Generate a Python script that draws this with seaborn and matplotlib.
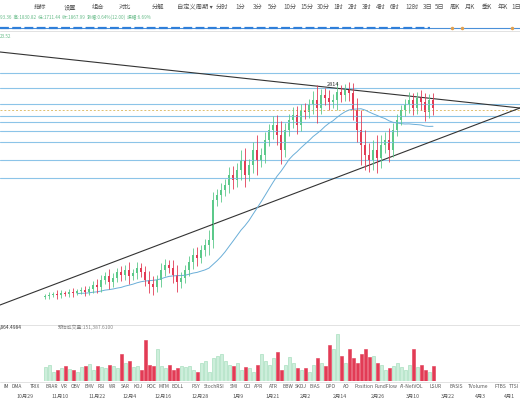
import numpy as np
import pandas as pd
import matplotlib
matplotlib.use("Agg")
import matplotlib.pyplot as plt
import seaborn as sns

sns.set_theme(style="white")
plt.rcParams['font.family'] = ['Noto Sans CJK SC', 'DejaVu Sans']

# closing prices (arbitrary chart units)
closes = [340, 350, 360, 350, 370, 360, 380, 370, 390, 400, 380, 410,
          450, 430, 500, 540, 480, 520, 580, 550, 600, 540, 570, 620, 580,
          500, 460, 430, 500, 600, 650, 620, 550, 480, 520,
          600, 680, 750, 720, 800, 850, 900,
          1300, 1350, 1400,
          1450, 1550, 1500, 1600, 1700, 1550, 1650, 1800, 1700, 1750,
          1900, 2000, 2050, 1950, 1800, 2000, 2100, 2150, 2050, 2200,
          2180, 2250, 2300, 2220, 2350, 2320, 2280, 2300, 2380, 2350, 2400, 2370,
          2200, 2000, 1850, 1750, 1700, 1800, 1720,
          1850, 1900, 1800, 2000, 2100, 2200,
          2250, 2300, 2220, 2320, 2280, 2180, 2300, 2220]
wicks = [20, 30, 20, 40, 30, 20, 30, 40, 20, 30, 40, 30,
         40, 60, 50, 40, 70, 50, 40, 60, 50, 80, 40, 60, 50,
         60, 90, 80, 50, 70, 60, 50, 80, 100, 60,
         50, 60, 70, 80, 50, 60, 100,
         80, 60, 70,
         60, 80, 90, 70, 100, 120, 60, 80, 150, 70,
         80, 60, 90, 100, 140, 70, 60, 80, 90, 60,
         70, 60, 90, 150, 60, 70, 80, 60, 100, 70, 60, 80,
         100, 120, 200, 150, 120, 100, 150,
         100, 80, 120, 70, 60, 50,
         60, 80, 70, 60, 80, 90, 60, 70]
volumes = [15, 18, 10, 12, 14, 16, 13, 12, 10, 15, 16, 19,
           12, 16, 15, 14, 18, 16, 14, 30, 20, 22, 15, 17, 12,
           45, 18, 16, 35, 16, 14, 18, 12, 14, 17,
           15, 16, 12, 10, 20, 22, 10,
           25, 28, 30, 22, 18, 16, 20, 12, 15, 14, 10, 18, 30,
           22, 18, 25, 32, 12, 18, 26, 20, 14, 12,
           14, 10, 18, 25, 20, 16, 40, 35, 52, 28, 20, 35,
           25, 20, 30, 35, 26, 28, 20,
           18, 12, 14, 16, 20, 15,
           12, 18, 35, 15, 18, 12, 10, 16]
h_levels = [2570, 2420, 2260, 2140, 2080, 1990, 1880, 1700, 1520]
dash_level = 2200
date_labels = ["10月29", "11月10", "11月22", "12月4", "12月16", "12月28", "1月9",
               "1月21", "2月2", "2月14", "2月26", "3月10", "3月22", "4月3", "4月1"]
date_x = [25, 60, 97, 130, 163, 200, 238, 273, 305, 340, 378, 413, 448, 480, 515]
ind_labels = ["IM", "DMA", "TRIX", "BRAR", "VR", "OBV", "EMV", "RSI", "WR", "SAR", "KDJ",
              "ROC", "MTM", "BOLL", "PSY", "StochRSI", "SMI", "CCI", "APR", "ATR", "BBW",
              "SKDJ", "BIAS", "DPO", "AO", "Position", "FundFlow", "AI-NetVOL", "LSUR",
              "BASIS", "TVolume", "FTBS", "TTSI"]
ind_x = [3, 17, 35, 52, 64, 76, 89, 101, 113, 125, 138, 151, 164, 178, 196, 214, 234, 247,
         259, 273, 288, 301, 315, 331, 346, 364, 386, 412, 436, 456, 478, 500, 519]
tool_labels = ["指标", "设置", "组合", "对比", "分解", "自定义周期 ▾", "分时", "1分", "3分", "5分",
               "10分", "15分", "30分", "1时", "2时", "3时", "4时", "6时", "12时", "3日", "5日",
               "周K", "月K", "季K", "年K", "1日"]
tool_x = [40, 70, 98, 125, 158, 195, 222, 240, 258, 273, 290, 307, 323, 338, 353, 367,
          381, 395, 412, 428, 440, 455, 470, 487, 503, 516]

df = pd.DataFrame({"close": closes, "wick": wicks, "vol": volumes})
df["open"] = df["close"].shift(1).fillna(330)
df["high"] = df[["open", "close"]].max(axis=1) + df["wick"]
df["low"] = df[["open", "close"]].min(axis=1) - df["wick"]
df["up"] = df["close"] >= df["open"]
df["ma"] = df["close"].rolling(20, min_periods=1).mean()
idx = np.arange(len(df))

GREEN = "#5cc98a"
RED = "#e23b55"
BLUE = "#8cc4e8"

fig = plt.figure(figsize=(5.2, 4.0), dpi=100)
W, H = 520, 400

def fx(x):
    return x / W

def fy(y):
    return 1 - y / H

# price axes covers full width, y px 35..322
ax = fig.add_axes([0, fy(322), 1, (322 - 35) / H])
ax.set_xlim(-11.25, 118.75)
ax.set_ylim(3300 - 10 * 322, 3300 - 10 * 35)
ax.axis("off")

for lv in h_levels:
    ax.axhline(lv, color=BLUE, lw=0.8)
ax.axhline(dash_level, color="#e0c070", lw=0.7, ls=(0, (2, 2)))

# trend lines
tx = np.array([-11.25, 118.75])
ax.plot(tx, [3300 - 520, 3300 - 1080], color="#333333", lw=0.8)
ax.plot(tx, [3300 - 3050, 3300 - 1080], color="#333333", lw=0.8)

ax.plot(idx[8:], df["ma"][8:], color="#6aaed8", lw=0.7)

colors = [GREEN if u else RED for u in df["up"]]
ax.vlines(idx, df["low"], df["high"], colors=colors, lw=0.6)
ax.bar(idx, (df["close"] - df["open"]).abs().clip(lower=8).to_numpy(),
       bottom=df[["open", "close"]].min(axis=1).to_numpy(), width=0.7,
       color=colors, linewidth=0)
ax.text(72, 2440, "2814", fontsize=4, color="#333333", ha="center")

# volume axes
vx = fig.add_axes([0, fy(381), 1, 50 / H])
vx.set_xlim(-11.25, 118.75)
vx.set_ylim(0, 55)
vx.axis("off")
vcol = ["#cdeedb" if u else RED for u in df["up"]]
vedge = ["#9adbb5" if u else RED for u in df["up"]]
vx.bar(idx, df["vol"], width=0.75, color=vcol, edgecolor=vedge, lw=0.4)

# separators
for yy in [31, 325, 382]:
    fig.add_artist(plt.Line2D([0, 1], [fy(yy), fy(yy)], color="#dddddd", lw=0.6))
fig.add_artist(plt.Line2D([0, 1], [fy(28), fy(28)], color="#4a90d9", lw=0.8))
fig.add_artist(plt.Line2D([0, fx(430)], [fy(28), fy(28)], color="#2f7fd9", lw=1.6, ls=(0, (4, 1.5))))
for ox in [452, 462, 512]:
    fig.add_artist(plt.Line2D([fx(ox)], [fy(28)], marker="o", ms=1.5, color="#e0a050"))

for t, x in zip(tool_labels, tool_x):
    fig.text(fx(x), fy(7), t, fontsize=4.5, color="#555555", ha="center", va="center")
fig.text(fx(0), fy(17), "93.36  高:1830.82  低:1711.44  收:1867.99  涨幅:0.64%(12.00)  振幅:6.69%",
         fontsize=3.3, color="#66bb88", va="center")
fig.text(fx(0), fy(37), "23.52", fontsize=3.3, color="#66bb88", va="center")
fig.text(fx(0), fy(327), ",864.4984", fontsize=3.5, color="#333333", va="center")
fig.text(fx(58), fy(327), "预估成交量:151,387.6100", fontsize=3.5, color="#888888", va="center")

for t, x in zip(ind_labels, ind_x):
    ha = "right" if x > 515 else ("left" if x < 5 else "center")
    fig.text(fx(x), fy(387), t, fontsize=3.5, color="#555555", ha=ha, va="center")
for t, x in zip(date_labels, date_x):
    ha = "right" if x > 510 else "center"
    fig.text(fx(x), fy(396), t, fontsize=3.8, color="#555555", ha=ha, va="center")

fig.savefig("out.png", dpi=100)
